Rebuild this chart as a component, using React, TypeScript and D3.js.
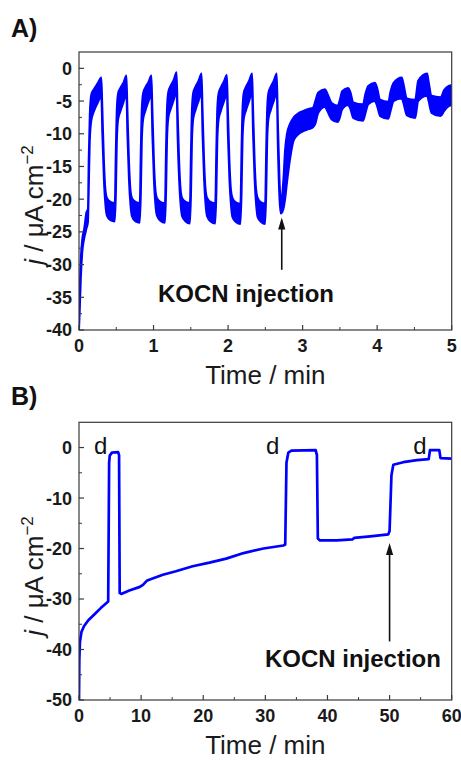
import React from "react";
import * as d3 from "d3";

// panel A: photocurrent under chopped light, the trace is a noise band so keep its upper and lower edge
const timeA = [
  0.0, 0.01, 0.025, 0.045, 0.07, 0.1, 0.12,
  0.13, 0.145, 0.165, 0.2, 0.25, 0.3, 0.313, 0.334, 0.354, 0.374, 0.421,
  0.48, 0.495, 0.508, 0.525, 0.555, 0.596, 0.636, 0.649, 0.67, 0.69, 0.71, 0.757,
  0.815, 0.83, 0.843, 0.86, 0.89, 0.931, 0.971, 0.984, 1.005, 1.025, 1.045, 1.092,
  1.153, 1.168, 1.181, 1.198, 1.228, 1.269, 1.309, 1.322, 1.343, 1.363, 1.383, 1.43,
  1.488, 1.503, 1.516, 1.533, 1.563, 1.604, 1.644, 1.657, 1.678, 1.698, 1.718, 1.765,
  1.828, 1.843, 1.856, 1.873, 1.903, 1.944, 1.984, 1.997, 2.018, 2.038, 2.058, 2.105,
  2.166, 2.181, 2.194, 2.211, 2.241, 2.282, 2.322, 2.335, 2.356, 2.376, 2.396, 2.443,
  2.497, 2.512, 2.525, 2.542, 2.572, 2.613, 2.653, 2.668, 2.69, 2.707,
  2.742, 2.765, 2.79, 2.83, 2.88, 2.95, 3.01, 3.08, 3.14,
  3.17, 3.21, 3.3, 3.33, 3.39, 3.47, 3.5, 3.53, 3.61, 3.64, 3.68, 3.81,
  3.84, 3.88, 3.97, 4.0, 4.04, 4.15, 4.18, 4.22, 4.33, 4.35, 4.4, 4.51,
  4.55, 4.67, 4.69, 4.73, 4.85, 4.9, 4.96, 5.0,
];
const upperA = [
  -40, -34, -29, -26, -24.5, -22, -21.5,
  -14, -7, -4.0, -3.2, -2.3, -1.4, -6, -14, -18.5, -19.8, -20.4,
  -20.6, -12, -6, -3.8, -3.0, -2.2, -1.1, -6, -14, -18.5, -19.8, -20.4,
  -20.6, -12, -6, -3.8, -2.9, -2.1, -1.1, -6, -14, -18.5, -19.8, -20.4,
  -20.6, -12, -6, -3.6, -2.7, -1.8, -0.6, -6, -14, -18.5, -19.8, -20.4,
  -20.6, -12, -6, -3.7, -2.8, -1.9, -0.8, -6, -14, -18.5, -19.8, -20.4,
  -20.6, -12, -6, -3.8, -2.9, -2.0, -1.0, -6, -14, -18.5, -19.8, -20.5,
  -20.7, -12, -6, -3.7, -2.8, -1.9, -0.8, -6, -14, -18.5, -19.8, -20.5,
  -20.7, -12, -6, -3.7, -2.8, -1.9, -0.8, -8, -17, -20.3,
  -17, -12.4, -10, -8.5, -7.5, -6.8, -6.5, -6.2, -6.0,
  -5.0, -3.7, -3.2, -3.8, -5.3, -5.7, -4.8, -3.5, -3.0, -3.6, -5.2, -5.5,
  -4.0, -2.7, -2.2, -3.0, -4.8, -5.1, -3.5, -2.2, -1.4, -2.2, -4.6, -4.8,
  -1.9, -0.8, -2.0, -4.2, -4.4, -3.3, -2.7, -2.6,
];
const lowerA = [
  -40, -37, -32, -28, -26, -24.5, -23.5,
  -19, -11, -8.0, -6.6, -5.3, -4.3, -10, -17, -20.8, -22.5, -23.2,
  -23.4, -19, -11, -7.8, -6.6, -5.2, -4.0, -10, -17, -20.8, -22.6, -23.4,
  -23.6, -19, -11, -7.8, -6.5, -5.1, -4.0, -10, -17, -20.8, -22.5, -23.3,
  -23.6, -19, -11, -7.6, -6.3, -4.9, -3.6, -10, -17, -20.8, -22.6, -23.4,
  -23.7, -19, -11, -7.7, -6.4, -5.0, -3.8, -10, -17, -20.8, -22.6, -23.4,
  -23.7, -19, -11, -7.8, -6.5, -5.1, -3.9, -10, -17, -20.8, -22.7, -23.5,
  -23.8, -19, -11, -7.7, -6.4, -5.0, -3.8, -10, -17, -20.8, -22.7, -23.5,
  -23.8, -19, -11, -7.7, -6.4, -5.0, -3.8, -12, -20, -22.2,
  -21.5, -20, -17.5, -14, -11, -10, -9.6, -9.3, -9.0,
  -8.5, -6.8, -5.9, -6.5, -7.8, -8.2, -7.5, -6.3, -5.6, -6.2, -7.6, -8.0,
  -7.0, -5.5, -5.0, -5.8, -7.3, -7.7, -6.5, -5.0, -4.6, -5.2, -7.2, -7.6,
  -5.0, -4.2, -5.0, -6.8, -7.3, -6.5, -5.8, -5.6,
];

// panel B: long run with dark periods (d)
const timeB = [
  0, 0.05, 0.15, 0.4, 0.8, 1.5, 2.5, 3.5, 4.7, 4.85, 4.95, 5.3, 6.3, 6.45, 6.55, 6.8,
  8.1, 9.8, 10.3, 10.9, 11.3, 13.5, 15.6, 18.3, 21.0, 23.7, 26.5, 29.7, 32.9, 33.2,
  33.4, 33.7, 34.2, 38.1, 38.3, 38.45, 38.8, 41.5, 44.0, 44.3, 46.9, 49.8, 50.0,
  50.3, 50.6, 52.2, 54.4, 56.3, 56.5, 58.0, 58.2, 60,
];
const currentB = [
  -50, -42, -38.5, -36.5, -35.4, -34.2, -33.0, -31.8, -30.5, -3, -1.6, -1.0, -0.9, -1.5, -28.8, -29.0,
  -28.3, -27.6, -27.2, -26.4, -26.2, -25.2, -24.5, -23.5, -22.8, -22.0, -20.9, -20.0, -19.4, -19.2,
  -3, -1.0, -0.6, -0.5, -1.5, -18.0, -18.4, -18.4, -18.2, -17.9, -17.6, -17.2, -16.5,
  -5.5, -3.4, -2.9, -2.5, -2.3, -0.5, -0.5, -2.1, -2.2,
];

const xTicksA = [0, 1, 2, 3, 4, 5];
const xMinorA = [0.5, 1.5, 2.5, 3.5, 4.5];
const yTicksA = [0, -5, -10, -15, -20, -25, -30, -35, -40];
const yMinorA = [-2.5, -7.5, -12.5, -17.5, -22.5, -27.5, -32.5, -37.5];
const xTicksB = [0, 10, 20, 30, 40, 50, 60];
const xMinorB = [5, 15, 25, 35, 45, 55];
const yTicksB = [0, -10, -20, -30, -40, -50];
const yMinorB = [-5, -15, -25, -35, -45];

const darkTimesB = [3.5, 31.2, 54.9];
const arrowA = { t: 2.72, tip: -22.8, tail: -30.8, labelT: 2.24, labelV: -35.7 };
const arrowB = { t: 50.0, tip: -18.9, tail: -38.4, labelT: 44.1, labelV: -43.4 };

const font = "'Liberation Sans', Arial, sans-serif";
const blue = "#0000ff";
const frame = "#3a3a3a";

const left = 79, right = 451.7;

function Axes({ x, y, xTicks, xMinor, yTicks, yMinor, titleY, tag, tagY }) {
  const [y0, y1] = y.range();
  const top = y1, bottom = y0;
  return (
    <g fontFamily={font}>
      <rect x={left} y={top} width={right - left} height={bottom - top} fill="none" stroke={frame} strokeWidth={1.2} />
      {xTicks.map((v) => (
        <g key={"x" + v}>
          <line x1={x(v)} x2={x(v)} y1={bottom} y2={bottom - 5} stroke={frame} strokeWidth={1.2} />
          <text x={x(v)} y={bottom + 21.5} textAnchor="middle" fontSize={18} fontWeight="bold" fill="#1a1a1a">{v}</text>
        </g>
      ))}
      {xMinor.map((v) => (
        <line key={"xm" + v} x1={x(v)} x2={x(v)} y1={bottom} y2={bottom - 3} stroke={frame} strokeWidth={1} />
      ))}
      {yTicks.map((v) => (
        <g key={"y" + v}>
          <line x1={left} x2={left + 5} y1={y(v)} y2={y(v)} stroke={frame} strokeWidth={1.2} />
          <text x={left - 7} y={y(v)} dy="0.36em" textAnchor="end" fontSize={18} fontWeight="bold" fill="#1a1a1a">{v}</text>
        </g>
      ))}
      {yMinor.map((v) => (
        <line key={"ym" + v} x1={left} x2={left + 3} y1={y(v)} y2={y(v)} stroke={frame} strokeWidth={1} />
      ))}
      <text x={(left + right) / 2} y={bottom + 53.5} textAnchor="middle" fontSize={26} fill="#1a1a1a">Time / min</text>
      <text transform={`translate(43, ${titleY}) rotate(-90)`} textAnchor="middle" fontSize={26} fill="#1a1a1a">
        <tspan fontStyle="italic">j</tspan> / μA cm<tspan dy={-10} fontSize={17}>−2</tspan>
      </text>
      <text x={11} y={tagY} fontSize={25} fontWeight="bold" fill="#111">{tag}</text>
    </g>
  );
}

function Arrow({ x, y, a }) {
  const xp = x(a.t);
  const tip = y(a.tip);
  const tail = y(a.tail);
  return (
    <g>
      <line x1={xp} x2={xp} y1={tail} y2={tip + 10} stroke="#111" strokeWidth={1.6} />
      <path d={`M${xp},${tip} L${xp - 3.6},${tip + 12} L${xp + 3.6},${tip + 12} Z`} fill="#111" />
      <text x={x(a.labelT)} y={y(a.labelV)} textAnchor="middle" fontSize={24} fontWeight="bold" fontFamily={font} fill="#111">
        KOCN injection
      </text>
    </g>
  );
}

export default function App() {
  const xA = d3.scaleLinear().domain([0, 5]).range([left, right]);
  const yA = d3.scaleLinear().domain([-40, 2.5]).range([330, 52]);
  const xB = d3.scaleLinear().domain([0, 60]).range([left, right]);
  const yB = d3.scaleLinear().domain([-50, 5]).range([700, 422.3]);

  const bandA = d3
    .area<number>()
    .x((d, i) => xA(timeA[i]))
    .y0((d, i) => yA(lowerA[i]))
    .y1((d, i) => yA(upperA[i]))
    .curve(d3.curveMonotoneX);
  const lineB = d3
    .line<number>()
    .x((d, i) => xB(timeB[i]))
    .y((d) => yB(d))
    .curve(d3.curveLinear);

  return (
    <svg width={461} height={760} style={{ position: "absolute", left: 0, top: 0, background: "#fff" }}>
      <defs>
        <clipPath id="clipA"><rect x={left} y={52} width={right - left} height={278} /></clipPath>
        <clipPath id="clipB"><rect x={left} y={422.3} width={right - left} height={277.7} /></clipPath>
      </defs>
      <rect width={461} height={760} fill="#fff" />

      <g clipPath="url(#clipA)">
        <path d={bandA(timeA) || ""} fill={blue} stroke={blue} strokeWidth={2} strokeLinejoin="round" />
      </g>
      <Axes x={xA} y={yA} xTicks={xTicksA} xMinor={xMinorA} yTicks={yTicksA} yMinor={yMinorA} titleY={205} tag="A)" tagY={36.5} />
      <Arrow x={xA} y={yA} a={arrowA} />

      <g clipPath="url(#clipB)">
        <path d={lineB(currentB) || ""} fill="none" stroke={blue} strokeWidth={2.7} strokeLinejoin="round" />
      </g>
      <Axes x={xB} y={yB} xTicks={xTicksB} xMinor={xMinorB} yTicks={yTicksB} yMinor={yMinorB} titleY={576} tag="B)" tagY={405} />
      {darkTimesB.map((t) => (
        <text key={t} x={xB(t)} y={yB(-1.3)} textAnchor="middle" fontSize={24} fontFamily={font} fill="#111">d</text>
      ))}
      <Arrow x={xB} y={yB} a={arrowB} />
    </svg>
  );
}
